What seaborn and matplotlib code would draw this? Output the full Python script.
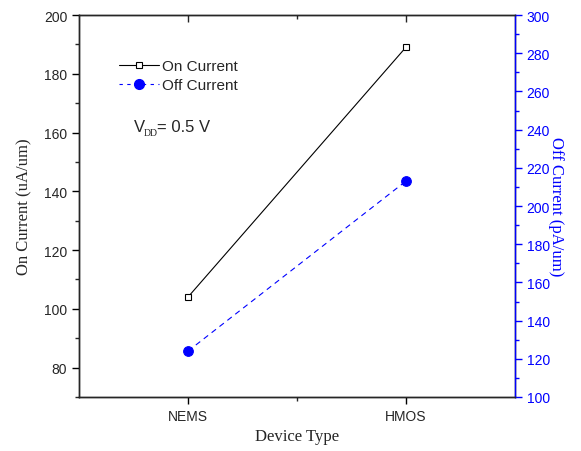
import matplotlib
matplotlib.use("Agg")
import matplotlib.pyplot as plt
import seaborn as sns
import pandas as pd
from matplotlib.ticker import MultipleLocator, FixedLocator
from matplotlib.lines import Line2D

devices = ["NEMS", "HMOS"]
positions = [1, 2]
on_current = [104, 189]
off_current = [124, 213]

sns.set_style("ticks")
plt.rcParams['font.family'] = ['Liberation Sans', 'DejaVu Sans']
serif = ['Liberation Serif', 'DejaVu Serif']

df = pd.DataFrame({"pos": positions, "on": on_current, "off": off_current})

fig = plt.figure(figsize=(5.81, 4.52), dpi=100)
ax = fig.add_axes([0.136, 0.1195, 0.75, 0.845])
sns.lineplot(data=df, x="pos", y="on", ax=ax, color="black", lw=0.8,
             marker="s", markersize=5, markerfacecolor="white",
             markeredgecolor="black", markeredgewidth=0.8)
ax2 = ax.twinx()
sns.lineplot(data=df, x="pos", y="off", ax=ax2, color="#0000FF", lw=0.8,
             linestyle=(0, (5, 4)), marker="o", markersize=7,
             markerfacecolor="#0000FF", markeredgecolor="#0000FF")

ax.set_xlim(0.5, 2.5)
ax.set_ylim(70, 200)
ax2.set_ylim(100, 300)
ax.set_xticks(positions)
ax.set_xticklabels(devices)
ax.xaxis.set_minor_locator(FixedLocator([1.5]))
ax.yaxis.set_major_locator(MultipleLocator(20))
ax.yaxis.set_minor_locator(MultipleLocator(10))
ax2.yaxis.set_major_locator(MultipleLocator(20))
ax2.yaxis.set_minor_locator(MultipleLocator(10))

for s in ax.spines.values():
    s.set_linewidth(1.0)
    s.set_color("black")
for s in ax2.spines.values():
    s.set_linewidth(1.0)
ax2.spines['right'].set_color("#0000FF")

ax.tick_params(axis='both', which='major', length=5, width=1, labelsize=10, color='black', direction='out')
ax.tick_params(axis='both', which='minor', length=3, width=1, direction='out')
ax2.tick_params(axis='y', which='major', length=5, width=1, labelsize=10,
                colors='#0000FF', direction='out')
ax2.tick_params(axis='y', which='minor', length=3, width=1, colors='#0000FF', direction='out')

# top ticks inward
secx = ax.secondary_xaxis('top')
secx.set_xticks(positions)
secx.set_xticklabels([])
secx.xaxis.set_minor_locator(FixedLocator([1.5]))
secx.tick_params(which='major', direction='in', length=5, width=1)
secx.tick_params(which='minor', direction='in', length=3, width=1)
secx.spines['top'].set_visible(False)

ax.set_xlabel("Device Type", family=serif, fontsize=12, labelpad=4)
ax.set_ylabel("On Current (uA/um)", family=serif, fontsize=12, labelpad=8)
ax2.set_ylabel("Off Current (pA/um)", family=serif, fontsize=12, color="#0000FF",
               rotation=270, labelpad=10)

handles = [
    Line2D([], [], color="black", lw=0.8, marker="s", markersize=5,
           markerfacecolor="white", markeredgecolor="black", markeredgewidth=0.8),
    Line2D([], [], color="#0000FF", lw=0.8, linestyle=(0, (3, 4)), marker="o",
           markersize=7, markerfacecolor="#0000FF"),
]
ax.legend(handles, ["On Current", "Off Current"], loc="upper left",
          bbox_to_anchor=(0.075, 0.905), frameon=False, fontsize=11,
          handlelength=2.6, handletextpad=0.2, labelspacing=0.35, borderpad=0)

ax.text(0.125, 0.709, "V", transform=ax.transAxes,
        fontsize=12, ha="left", va="center")
ax.text(0.148, 0.692, "DD", transform=ax.transAxes, family=serif,
        fontsize=7, ha="left", va="center")
ax.text(0.18, 0.709, "= 0.5 V", transform=ax.transAxes,
        fontsize=12, ha="left", va="center")

fig.savefig("out.png", dpi=100)
